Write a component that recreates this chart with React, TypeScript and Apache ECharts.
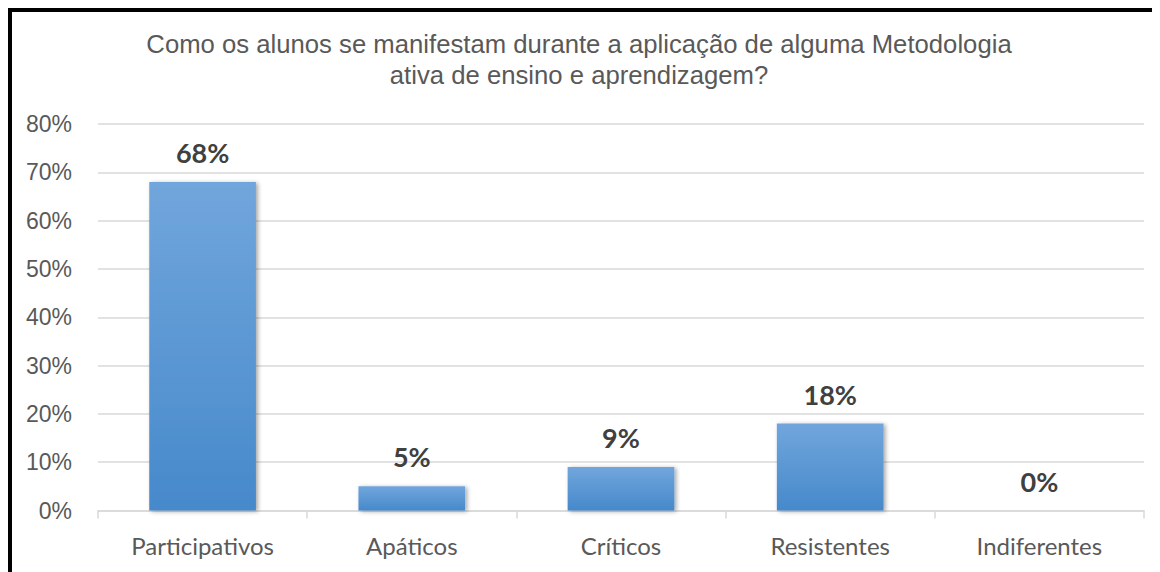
import React, { useEffect, useRef } from "react";
import * as echarts from "echarts";

const categories = ["Participativos", "Apáticos", "Críticos", "Resistentes", "Indiferentes"];
const values = [68, 5, 9, 18, 0];
const yTicks = [0, 10, 20, 30, 40, 50, 60, 70, 80];
const titleLines = [
  "Como os alunos se manifestam durante a aplicação de alguma Metodologia",
  "ativa de ensino e aprendizagem?",
];

export default function App() {
  const ref = useRef<HTMLDivElement>(null);
  useEffect(() => {
    if (!ref.current) return;
    const chart = echarts.init(ref.current, undefined, { renderer: "svg" });
    chart.setOption({
      animation: false,
      backgroundColor: "#ffffff",
      title: {
        text: titleLines.join("\n"),
        left: 562,
        top: 11,
        textAlign: "center",
        textStyle: {
          fontFamily: "Liberation Sans, Arial, sans-serif",
          fontSize: 25.7,
          fontWeight: "normal",
          color: "#595959",
          lineHeight: 31,
          align: "center",
        },
      },
      grid: { left: 86, right: 16, top: 112, bottom: 61.5, containLabel: false },
      xAxis: {
        type: "category",
        data: categories,
        axisLine: { lineStyle: { color: "#d9d9d9", width: 1.5 } },
        axisTick: { show: true, length: 8, lineStyle: { color: "#d9d9d9", width: 1.5 } },
        axisLabel: {
          fontFamily: "Lato, sans-serif",
          fontSize: 24,
          color: "#595959",
          margin: 23,
        },
      },
      yAxis: {
        type: "value",
        min: yTicks[0],
        max: yTicks[yTicks.length - 1],
        interval: 10,
        axisLine: { show: false },
        axisTick: { show: false },
        splitLine: { lineStyle: { color: "#d9d9d9", width: 1.5 } },
        axisLabel: {
          formatter: "{value}%",
          fontFamily: "Liberation Sans, Arial, sans-serif",
          fontSize: 23,
          color: "#595959",
          margin: 26,
        },
      },
      series: [
        {
          type: "bar",
          data: values,
          barWidth: "51%",
          itemStyle: {
            color: new echarts.graphic.LinearGradient(0, 0, 0, 1, [
              { offset: 0, color: "#71a6dc" },
              { offset: 1, color: "#4689cb" },
            ]),
            shadowColor: "rgba(0,0,0,0.35)",
            shadowBlur: 4,
            shadowOffsetX: 2,
            shadowOffsetY: 1,
          },
          label: {
            show: true,
            position: "top",
            distance: 16,
            formatter: "{c}%",
            fontFamily: "Lato, sans-serif",
            fontWeight: "bold",
            fontSize: 27,
            color: "#404040",
          },
        },
      ],
    });
    return () => chart.dispose();
  }, []);
  return (
    <div
      style={{
        width: 1152,
        height: 564,
        overflow: "hidden",
        borderLeft: "4px solid #000",
        borderTop: "4px solid #000",
        boxSizing: "border-box",
      }}
    >
      <div ref={ref} style={{ width: 1148, height: 560 }} />
    </div>
  );
}
